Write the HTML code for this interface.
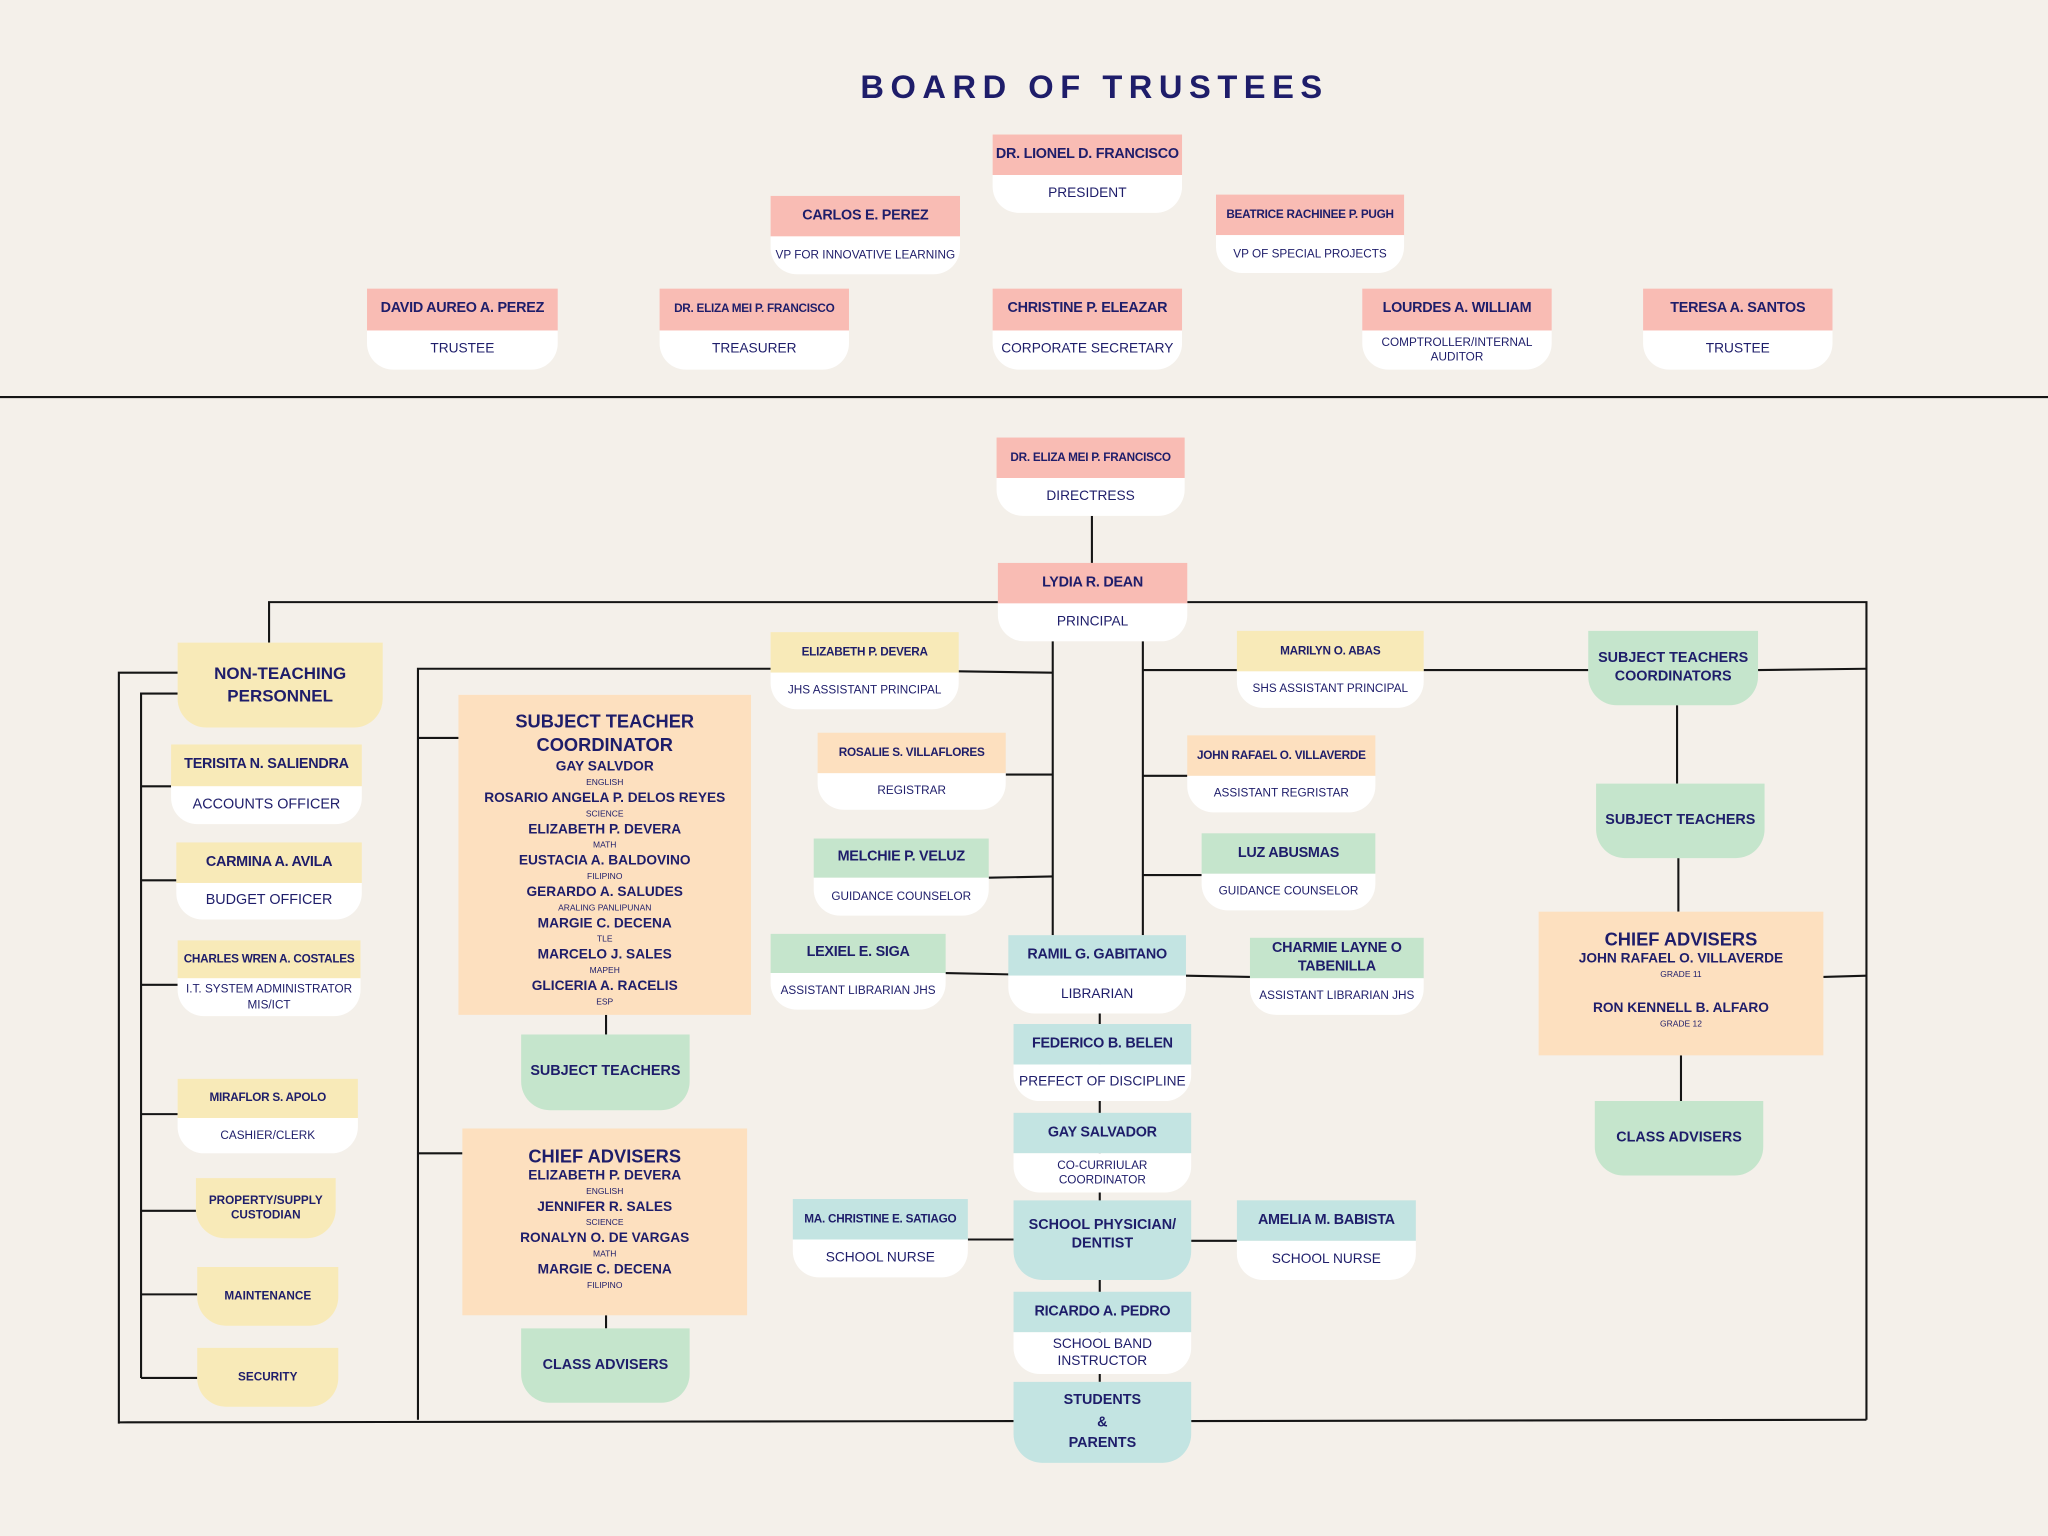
<!DOCTYPE html>
<html><head><meta charset="utf-8"><style>
html,body{margin:0;padding:0;background:#f4f0ea;}
#w{position:absolute;left:0;top:0;width:1568px;height:1176px;transform:scale(1.306122);transform-origin:0 0;font-family:"Liberation Sans",sans-serif;color:#1e1d6a;overflow:hidden}
svg{position:absolute;left:0;top:0}
.c{position:absolute}
.h,.b,.s{display:flex;align-items:center;justify-content:center;text-align:center;line-height:1.25}
.h{font-weight:bold;font-size:11px;letter-spacing:-0.2px}
.b{background:#fff;border-radius:0 0 20px 20px;font-size:10.5px}
.s{position:absolute;font-weight:bold;font-size:11px;border-radius:0 0 22px 22px}
.pk{background:#f9bcb4}.ye{background:#f8eab8}.pe{background:#fde0bf}.gr{background:#c5e5cc}.bl{background:#c3e4e2}
.sm{font-size:9px}.xs{font-size:9px}
.box{position:absolute;text-align:center;font-weight:bold}
.box .t{font-size:14px;line-height:18px}
.box .n{font-size:10.5px;line-height:13px}
.box .sub{font-size:6.5px;font-weight:normal;line-height:11px}
</style></head><body><div id="w">
<div style="position:absolute;left:0;width:1676px;top:53px;text-align:center;font-size:25px;font-weight:bold;letter-spacing:5px">BOARD OF TRUSTEES</div>
<svg width="1568" height="1176" stroke="#151515" stroke-width="1.6" fill="none">
<line x1="0" y1="304" x2="1568" y2="304"/>
<line x1="836" y1="395" x2="836" y2="431"/>
<polyline points="206,492 206,461 764,461"/>
<polyline points="909,461 1429,461 1429,1087"/>
<line x1="91" y1="1089" x2="776" y2="1088"/>
<line x1="912" y1="1088" x2="1429" y2="1087"/>
<polyline points="136,515 91,515 91,1090"/>
<polyline points="136,531 108,531 108,1055"/>
<line x1="108" y1="602" x2="131" y2="602"/><line x1="108" y1="674" x2="135" y2="674"/>
<line x1="108" y1="754" x2="136" y2="754"/><line x1="108" y1="853" x2="136" y2="853"/>
<line x1="108" y1="927" x2="150" y2="927"/><line x1="108" y1="991" x2="151" y2="991"/>
<line x1="108" y1="1055" x2="151" y2="1055"/>
<polyline points="320,1087 320,512 590,512"/>
<line x1="320" y1="565" x2="351" y2="565"/><line x1="320" y1="883" x2="354" y2="883"/>
<line x1="464" y1="777" x2="464" y2="792"/><line x1="464" y1="1007" x2="464" y2="1017"/>
<line x1="734" y1="514" x2="806" y2="515"/>
<line x1="806" y1="491" x2="806" y2="716"/><line x1="875" y1="491" x2="875" y2="716"/>
<line x1="770" y1="593" x2="806" y2="593"/><line x1="757" y1="672" x2="806" y2="671"/>
<line x1="724" y1="745" x2="772" y2="746"/>
<line x1="875" y1="513" x2="947" y2="513"/><line x1="1090" y1="513" x2="1216" y2="513"/>
<line x1="1346" y1="513" x2="1429" y2="512"/>
<line x1="875" y1="594" x2="909" y2="594"/><line x1="875" y1="670" x2="920" y2="670"/>
<line x1="908" y1="747" x2="957" y2="748"/>
<line x1="741" y1="949" x2="776" y2="949"/><line x1="912" y1="950" x2="947" y2="950"/>
<line x1="842" y1="776" x2="842" y2="1058"/>
<line x1="1284" y1="540" x2="1284" y2="600"/><line x1="1285" y1="657" x2="1285" y2="698"/>
<line x1="1396" y1="748" x2="1429" y2="747"/><line x1="1287" y1="808" x2="1287" y2="843"/>
</svg>
<!-- Board -->
<div class="c" style="left:760px;top:103px;width:145px"><div class="h pk" style="height:31px">DR. LIONEL D. FRANCISCO</div><div class="b" style="height:29px">PRESIDENT</div></div>
<div class="c" style="left:590px;top:150px;width:145px"><div class="h pk" style="height:31px">CARLOS E. PEREZ</div><div class="b xs" style="height:29px">VP FOR INNOVATIVE LEARNING</div></div>
<div class="c" style="left:931px;top:149px;width:144px"><div class="h pk sm" style="height:31px">BEATRICE RACHINEE P. PUGH</div><div class="b xs" style="height:29px">VP OF SPECIAL PROJECTS</div></div>
<div class="c" style="left:281px;top:221px;width:146px"><div class="h pk" style="height:32px">DAVID AUREO A. PEREZ</div><div class="b" style="height:30px">TRUSTEE</div></div>
<div class="c" style="left:505px;top:221px;width:145px"><div class="h pk sm" style="height:32px">DR. ELIZA MEI P. FRANCISCO</div><div class="b" style="height:30px">TREASURER</div></div>
<div class="c" style="left:760px;top:221px;width:145px"><div class="h pk" style="height:32px">CHRISTINE P. ELEAZAR</div><div class="b" style="height:30px">CORPORATE SECRETARY</div></div>
<div class="c" style="left:1043px;top:221px;width:145px"><div class="h pk" style="height:32px">LOURDES A. WILLIAM</div><div class="b xs" style="height:30px">COMPTROLLER/INTERNAL<br>AUDITOR</div></div>
<div class="c" style="left:1258px;top:221px;width:145px"><div class="h pk" style="height:32px">TERESA A. SANTOS</div><div class="b" style="height:30px">TRUSTEE</div></div>
<!-- Admin -->
<div class="c" style="left:763px;top:335px;width:144px"><div class="h pk sm" style="height:31px">DR. ELIZA MEI P. FRANCISCO</div><div class="b" style="height:29px">DIRECTRESS</div></div>
<div class="c" style="left:764px;top:431px;width:145px"><div class="h pk" style="height:31px">LYDIA R. DEAN</div><div class="b" style="height:29px">PRINCIPAL</div></div>
<!-- Non-teaching -->
<div class="s ye" style="left:136px;top:492px;width:157px;height:65px;font-size:13px">NON-TEACHING<br>PERSONNEL</div>
<div class="c" style="left:131px;top:570px;width:146px"><div class="h ye" style="height:32px">TERISITA N. SALIENDRA</div><div class="b" style="height:29px;font-size:11px">ACCOUNTS OFFICER</div></div>
<div class="c" style="left:135px;top:645px;width:142px"><div class="h ye" style="height:31px">CARMINA A. AVILA</div><div class="b" style="height:28px;font-size:11px">BUDGET OFFICER</div></div>
<div class="c" style="left:136px;top:720px;width:140px"><div class="h ye sm" style="height:29px">CHARLES WREN A. COSTALES</div><div class="b xs" style="height:29px">I.T. SYSTEM ADMINISTRATOR<br>MIS/ICT</div></div>
<div class="c" style="left:136px;top:826px;width:138px"><div class="h ye sm" style="height:30px">MIRAFLOR S. APOLO</div><div class="b xs" style="height:27px">CASHIER/CLERK</div></div>
<div class="s ye" style="left:150px;top:902px;width:107px;height:46px;font-size:9px">PROPERTY/SUPPLY<br>CUSTODIAN</div>
<div class="s ye" style="left:151px;top:970px;width:108px;height:45px;font-size:9px">MAINTENANCE</div>
<div class="s ye" style="left:151px;top:1032px;width:108px;height:45px;font-size:9px">SECURITY</div>
<!-- Left teaching -->
<div class="box pe" style="left:351px;top:532px;width:224px;height:245px;padding-top:11px;box-sizing:border-box">
<div class="t">SUBJECT TEACHER<br>COORDINATOR</div>
<div class="n" style="margin-top:2px">GAY SALVDOR</div><div class="sub">ENGLISH</div>
<div class="n">ROSARIO ANGELA P. DELOS REYES</div><div class="sub">SCIENCE</div>
<div class="n">ELIZABETH P. DEVERA</div><div class="sub">MATH</div>
<div class="n">EUSTACIA A. BALDOVINO</div><div class="sub">FILIPINO</div>
<div class="n">GERARDO A. SALUDES</div><div class="sub">ARALING PANLIPUNAN</div>
<div class="n">MARGIE C. DECENA</div><div class="sub">TLE</div>
<div class="n">MARCELO J. SALES</div><div class="sub">MAPEH</div>
<div class="n">GLICERIA A. RACELIS</div><div class="sub">ESP</div>
</div>
<div class="s gr" style="left:399px;top:792px;width:129px;height:58px">SUBJECT TEACHERS</div>
<div class="box pe" style="left:354px;top:864px;width:218px;height:143px;padding-top:12px;box-sizing:border-box">
<div class="t">CHIEF ADVISERS</div>
<div class="n">ELIZABETH P. DEVERA</div><div class="sub">ENGLISH</div>
<div class="n">JENNIFER R. SALES</div><div class="sub">SCIENCE</div>
<div class="n">RONALYN O. DE VARGAS</div><div class="sub">MATH</div>
<div class="n">MARGIE C. DECENA</div><div class="sub">FILIPINO</div>
</div>
<div class="s gr" style="left:399px;top:1017px;width:129px;height:57px">CLASS ADVISERS</div>
<!-- Center -->
<div class="c" style="left:590px;top:484px;width:144px"><div class="h ye sm" style="height:31px">ELIZABETH P. DEVERA</div><div class="b xs" style="height:28px">JHS ASSISTANT PRINCIPAL</div></div>
<div class="c" style="left:626px;top:561px;width:144px"><div class="h pe sm" style="height:31px">ROSALIE S. VILLAFLORES</div><div class="b xs" style="height:28px">REGISTRAR</div></div>
<div class="c" style="left:623px;top:642px;width:134px"><div class="h gr" style="height:30px">MELCHIE P. VELUZ</div><div class="b xs" style="height:29px">GUIDANCE COUNSELOR</div></div>
<div class="c" style="left:590px;top:715px;width:134px"><div class="h gr" style="height:30px">LEXIEL E. SIGA</div><div class="b xs" style="height:28px">ASSISTANT LIBRARIAN JHS</div></div>
<div class="c" style="left:947px;top:483px;width:143px"><div class="h ye sm" style="height:31px">MARILYN O. ABAS</div><div class="b xs" style="height:28px">SHS ASSISTANT PRINCIPAL</div></div>
<div class="c" style="left:909px;top:563px;width:144px"><div class="h pe sm" style="height:31px">JOHN RAFAEL O. VILLAVERDE</div><div class="b xs" style="height:28px">ASSISTANT REGRISTAR</div></div>
<div class="c" style="left:920px;top:638px;width:133px"><div class="h gr" style="height:31px">LUZ ABUSMAS</div><div class="b xs" style="height:28px">GUIDANCE COUNSELOR</div></div>
<div class="c" style="left:957px;top:718px;width:133px"><div class="h gr" style="height:31px">CHARMIE LAYNE O<br>TABENILLA</div><div class="b xs" style="height:28px">ASSISTANT LIBRARIAN JHS</div></div>
<div class="c" style="left:772px;top:716px;width:136px"><div class="h bl" style="height:31px">RAMIL G. GABITANO</div><div class="b" style="height:29px">LIBRARIAN</div></div>
<div class="c" style="left:776px;top:784px;width:136px"><div class="h bl" style="height:31px">FEDERICO B. BELEN</div><div class="b" style="height:28px">PREFECT OF DISCIPLINE</div></div>
<div class="c" style="left:776px;top:852px;width:136px"><div class="h bl" style="height:31px">GAY SALVADOR</div><div class="b xs" style="height:30px">CO-CURRIULAR<br>COORDINATOR</div></div>
<div class="s bl" style="left:776px;top:919px;width:136px;height:61px;padding-bottom:8px;box-sizing:border-box">SCHOOL PHYSICIAN/<br>DENTIST</div>
<div class="c" style="left:607px;top:918px;width:134px"><div class="h bl sm" style="height:31px">MA. CHRISTINE E. SATIAGO</div><div class="b" style="height:29px">SCHOOL NURSE</div></div>
<div class="c" style="left:947px;top:919px;width:137px"><div class="h bl" style="height:31px">AMELIA M. BABISTA</div><div class="b" style="height:30px">SCHOOL NURSE</div></div>
<div class="c" style="left:776px;top:989px;width:136px"><div class="h bl" style="height:31px">RICARDO A. PEDRO</div><div class="b" style="height:32px">SCHOOL BAND<br>INSTRUCTOR</div></div>
<div class="s bl" style="left:776px;top:1058px;width:136px;height:62px;line-height:1.5">STUDENTS<br>&amp;<br>PARENTS</div>
<!-- Right -->
<div class="s gr" style="left:1216px;top:483px;width:130px;height:57px">SUBJECT TEACHERS<br>COORDINATORS</div>
<div class="s gr" style="left:1222px;top:600px;width:129px;height:57px">SUBJECT TEACHERS</div>
<div class="box pe" style="left:1178px;top:698px;width:218px;height:110px;padding-top:12px;box-sizing:border-box">
<div class="t">CHIEF ADVISERS</div>
<div class="n">JOHN RAFAEL O. VILLAVERDE</div><div class="sub">GRADE 11</div>
<div class="n" style="margin-top:14px">RON KENNELL B. ALFARO</div><div class="sub">GRADE 12</div>
</div>
<div class="s gr" style="left:1221px;top:843px;width:129px;height:57px">CLASS ADVISERS</div>
</div></body></html>
